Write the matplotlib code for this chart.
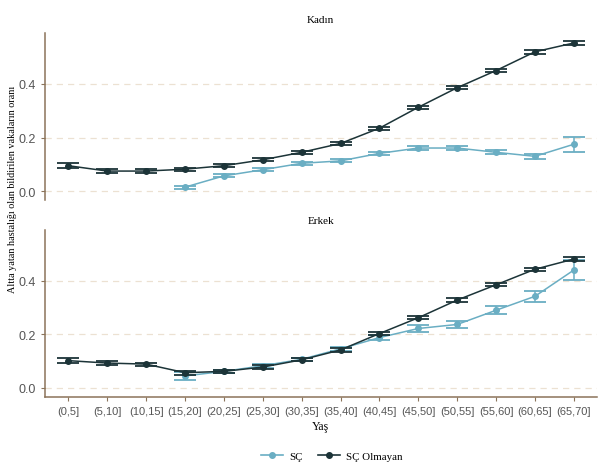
import numpy as np
import matplotlib
matplotlib.use("Agg")
import matplotlib.pyplot as plt
from matplotlib.lines import Line2D

age_groups = ["(0,5]", "(5,10]", "(10,15]", "(15,20]", "(20,25]", "(25,30]", "(30,35]",
              "(35,40]", "(40,45]", "(45,50]", "(50,55]", "(55,60]", "(60,65]", "(65,70]"]

# Kadin
kadin_olmayan = [0.095, 0.075, 0.075, 0.082, 0.095, 0.117, 0.145, 0.178, 0.235, 0.313, 0.386, 0.450, 0.520, 0.553]
kadin_olmayan_err = [0.009, 0.007, 0.006, 0.006, 0.006, 0.006, 0.006, 0.006, 0.006, 0.006, 0.006, 0.007, 0.007, 0.007]
kadin_sc = [np.nan, np.nan, np.nan, 0.015, 0.057, 0.080, 0.104, 0.113, 0.141, 0.161, 0.161, 0.145, 0.130, 0.175]
kadin_sc_err = [np.nan, np.nan, np.nan, 0.006, 0.006, 0.006, 0.006, 0.006, 0.006, 0.007, 0.007, 0.007, 0.010, 0.028]

# Erkek
erkek_olmayan = [0.102, 0.093, 0.089, 0.057, 0.062, 0.078, 0.105, 0.142, 0.203, 0.262, 0.328, 0.385, 0.443, 0.481]
erkek_olmayan_err = [0.008, 0.007, 0.006, 0.007, 0.006, 0.006, 0.006, 0.006, 0.006, 0.006, 0.006, 0.006, 0.006, 0.007]
erkek_sc = [np.nan, np.nan, np.nan, 0.045, 0.062, 0.083, 0.107, 0.146, 0.188, 0.222, 0.237, 0.290, 0.342, 0.440]
erkek_sc_err = [np.nan, np.nan, np.nan, 0.014, 0.006, 0.007, 0.006, 0.008, 0.010, 0.012, 0.013, 0.015, 0.020, 0.038]

c_sc = "#6aaec3"
c_ol = "#1c3438"
c_spine = "#8b735a"
c_grid = "#ece1d2"
c_tick = "#555555"
serif = "Liberation Serif"
sans = "Liberation Sans"

fig = plt.figure(figsize=(6.05, 4.77), dpi=100)
ax1 = fig.add_axes([0.0744, 0.5786, 0.9126, 0.350])
ax2 = fig.add_axes([0.0744, 0.166, 0.9126, 0.350])

x = np.arange(len(age_groups))

def draw_panel(ax, ol, ol_err, sc, sc_err, show_x):
    ax.errorbar(x, sc, yerr=sc_err, color=c_sc, marker="o", ms=4, lw=1.1,
                capsize=8, capthick=1.3, elinewidth=1.1, zorder=3)
    ax.errorbar(x, ol, yerr=ol_err, color=c_ol, marker="o", ms=4, lw=1.1,
                capsize=8, capthick=1.3, elinewidth=1.1, zorder=4)
    ax.set_xlim(-0.6, 13.6)
    ax.set_ylim(-0.033, 0.59)
    ax.set_yticks([0.0, 0.2, 0.4])
    ax.set_yticklabels(["0.0", "0.2", "0.4"], fontfamily=sans, fontsize=9, color=c_tick)
    for y in [0.0, 0.2, 0.4]:
        ax.axhline(y, color=c_grid, lw=0.9, ls=(0, (5, 4)), zorder=1)
    for s in ["top", "right"]:
        ax.spines[s].set_visible(False)
    ax.spines["left"].set_color(c_spine)
    ax.spines["left"].set_linewidth(1.1)
    ax.tick_params(axis="y", color=c_spine, length=3, width=0.8)
    if show_x:
        ax.spines["bottom"].set_color(c_spine)
        ax.spines["bottom"].set_linewidth(1.1)
        ax.set_xticks(x)
        ax.set_xticklabels(age_groups, fontfamily=sans, fontsize=8, color=c_tick)
        ax.tick_params(axis="x", color=c_spine, length=3, width=0.8)
    else:
        ax.spines["bottom"].set_visible(False)
        ax.set_xticks([])

draw_panel(ax1, kadin_olmayan, kadin_olmayan_err, kadin_sc, kadin_sc_err, False)
draw_panel(ax2, erkek_olmayan, erkek_olmayan_err, erkek_sc, erkek_sc_err, True)

fig.text(0.53, 0.958, "Kadın", ha="center", va="center", fontfamily=serif, fontsize=8)
fig.text(0.53, 0.535, "Erkek", ha="center", va="center", fontfamily=serif, fontsize=8)
fig.text(0.53, 0.104, "Yaş", ha="center", va="center", fontfamily=serif, fontsize=8.5)
fig.text(0.021, 0.604, "Altta yatan hastalığı olan bildirilen vakaların oranı",
         rotation=90, ha="center", va="center", fontfamily=serif, fontsize=7.3)

handles = [Line2D([], [], color=c_sc, marker="o", ms=4, lw=1.2),
           Line2D([], [], color=c_ol, marker="o", ms=4, lw=1.2)]
fig.legend(handles, ["SÇ", "SÇ Olmayan"], loc="center", bbox_to_anchor=(0.549, 0.042), ncol=2,
           frameon=False, prop={"family": serif, "size": 7.8}, handlelength=2.0,
           handletextpad=0.6, columnspacing=1.4)

fig.savefig("out.png", dpi=100)
